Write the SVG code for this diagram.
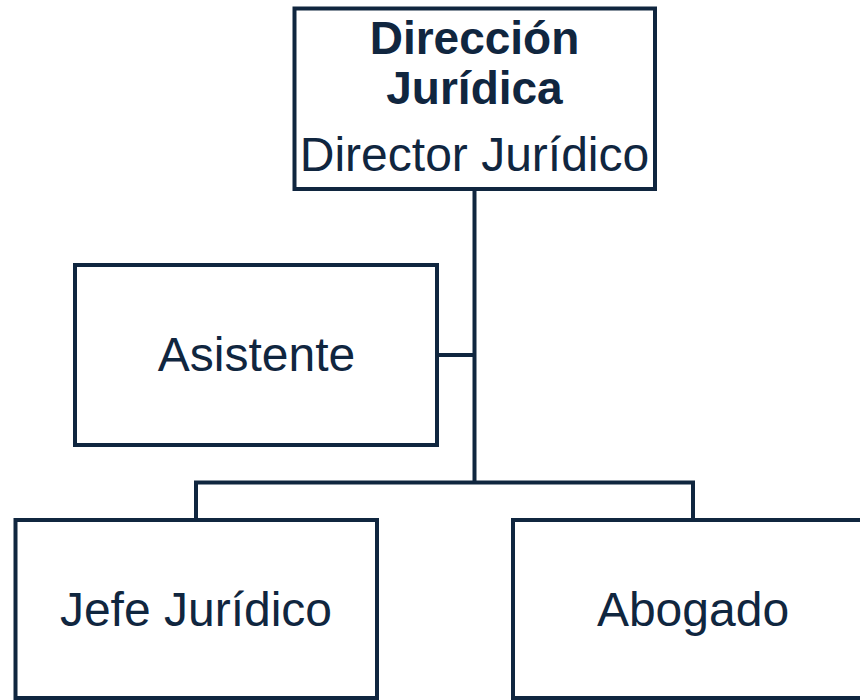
<svg xmlns="http://www.w3.org/2000/svg" width="860" height="700" viewBox="0 0 860 700">
<style>
.box{fill:#ffffff;stroke:#10263f;stroke-width:4}
.ln{fill:none;stroke:#10263f;stroke-width:4}
.t{font-family:"Liberation Sans",Arial,Helvetica,sans-serif;font-size:48px;fill:#10263f;text-anchor:middle}
.b{font-weight:bold;font-size:46px}
</style>
<rect width="860" height="700" fill="#ffffff"/>
<g id="connectors">
<path class="ln" d="M474.5,189 V482.5 M437,355 H474.5 M196,520 V482.5 H693 V520"/>
</g>
<g id="direccion">
<rect class="box" x="294.5" y="8.5" width="360.5" height="180.5"/>
<text class="t b" x="474.5" y="54">Dirección</text>
<text class="t b" x="474.5" y="104">Jurídica</text>
<text class="t" x="474.5" y="171">Director Jurídico</text>
</g>
<g id="asistente">
<rect class="box" x="75" y="265" width="362" height="180"/>
<text class="t" x="256.5" y="371">Asistente</text>
</g>
<g id="jefe">
<rect class="box" x="15.5" y="520" width="361.5" height="178"/>
<text class="t" x="196" y="626">Jefe Jurídico</text>
</g>
<g id="abogado">
<rect class="box" x="513" y="520" width="360" height="178"/>
<text class="t" x="693" y="626">Abogado</text>
</g>
</svg>
